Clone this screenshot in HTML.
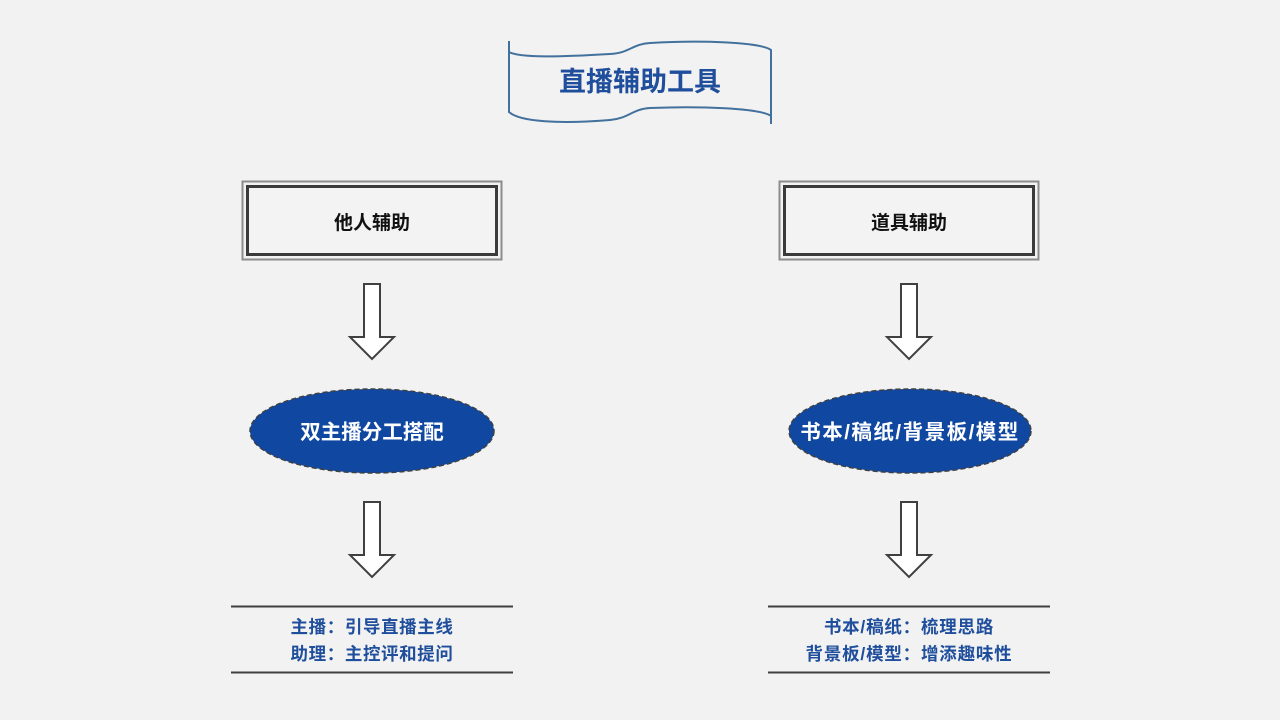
<!DOCTYPE html>
<html><head><meta charset="utf-8"><style>
html,body{margin:0;padding:0;background:#f2f2f2;}
svg{display:block;}
text{font-family:"Liberation Sans","Noto Sans CJK SC",sans-serif;font-weight:bold;}
</style></head><body>
<svg width="1280" height="720" viewBox="0 0 1280 720" xmlns="http://www.w3.org/2000/svg">
<rect width="1280" height="720" fill="#f2f2f2"/>
<path d="M509,41 L509,52 C520,58 560,57 610,54 C630,53 632,44 650,43 C700,40 760,42 771,50 L771,124 M771,116 C760,108 700,106 650,108 C632,109 630,118 610,120 C560,124 520,122 509,112 L509,41" fill="#f2f2f2" stroke="#41719c" stroke-width="2"/>
<text x="640" y="91" text-anchor="middle" font-size="27" fill="#1f4e9c">直播辅助工具</text>

<rect x="242.5" y="181.5" width="259" height="78" fill="#f2f2f2" stroke="#8c8c8c" stroke-width="2"/>
<rect x="247.5" y="186.5" width="249" height="68" fill="#f3f3f3" stroke="#3a3a3a" stroke-width="3"/>
<text x="372" y="229" text-anchor="middle" font-size="19" fill="#111">他人辅助</text>
<path d="M364,284 L380,284 L380,337 L394,337 L372,359 L350,337 L364,337 Z" fill="#fff" stroke="#404040" stroke-width="2"/>
<ellipse cx="372" cy="431" rx="122" ry="42" fill="#0f47a1" stroke="#404040" stroke-width="1.5" stroke-dasharray="5,3"/>
<text x="372" y="439" text-anchor="middle" font-size="20.5" fill="#fff">双主播分工搭配</text>
<path d="M364,502 L380,502 L380,555 L394,555 L372,577 L350,555 L364,555 Z" fill="#fff" stroke="#404040" stroke-width="2"/>
<line x1="231" y1="606.5" x2="513" y2="606.5" stroke="#404040" stroke-width="2"/>
<line x1="231" y1="672.5" x2="513" y2="672.5" stroke="#404040" stroke-width="2"/>
<text x="372" y="633" text-anchor="middle" font-size="17.5" letter-spacing="0.6" fill="#1f4e9c">主播：引导直播主线</text>
<text x="372" y="660" text-anchor="middle" font-size="17.5" letter-spacing="0.6" fill="#1f4e9c">助理：主控评和提问</text>

<rect x="779.5" y="181.5" width="259" height="78" fill="#f2f2f2" stroke="#8c8c8c" stroke-width="2"/>
<rect x="784.5" y="186.5" width="249" height="68" fill="#f3f3f3" stroke="#3a3a3a" stroke-width="3"/>
<text x="909" y="229" text-anchor="middle" font-size="19" fill="#111">道具辅助</text>
<path d="M901,284 L917,284 L917,337 L931,337 L909,359 L887,337 L901,337 Z" fill="#fff" stroke="#404040" stroke-width="2"/>
<ellipse cx="910" cy="431" rx="121" ry="42" fill="#0f47a1" stroke="#404040" stroke-width="1.5" stroke-dasharray="5,3"/>
<text x="910" y="439" text-anchor="middle" font-size="20.5" letter-spacing="1.5" fill="#fff">书本/稿纸/背景板/模型</text>
<path d="M901,502 L917,502 L917,555 L931,555 L909,577 L887,555 L901,555 Z" fill="#fff" stroke="#404040" stroke-width="2"/>
<line x1="768" y1="606.5" x2="1050" y2="606.5" stroke="#404040" stroke-width="2"/>
<line x1="768" y1="672.5" x2="1050" y2="672.5" stroke="#404040" stroke-width="2"/>
<text x="909" y="633" text-anchor="middle" font-size="17.5" letter-spacing="0.8" fill="#1f4e9c">书本/稿纸：梳理思路</text>
<text x="909" y="660" text-anchor="middle" font-size="17.5" letter-spacing="0.8" fill="#1f4e9c">背景板/模型：增添趣味性</text>
</svg>
</body></html>
